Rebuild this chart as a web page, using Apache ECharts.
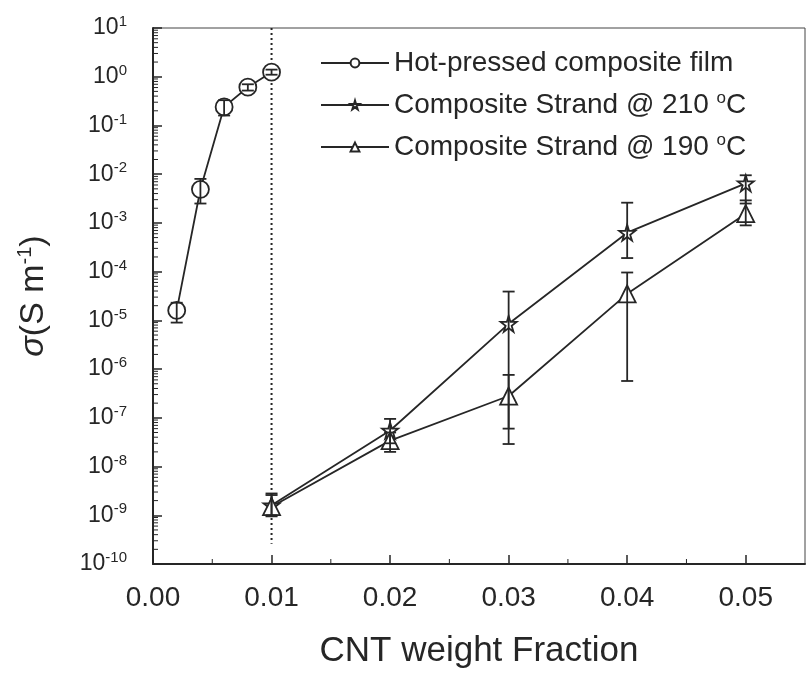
<!DOCTYPE html>
<html>
<head>
<meta charset="utf-8">
<script src="https://cdn.jsdelivr.net/npm/echarts@6/dist/echarts.min.js"></script>
<style>
  html, body { margin: 0; padding: 0; background: #fff; }
  #chart { width: 806px; height: 677px; }
</style>
</head>
<body>
<div id="chart"></div>
<script>
// hot-pressed film (circles)
const filmX = [0.002, 0.004, 0.006, 0.008, 0.010]
const filmY = [1.6e-5, 4.9e-3, 0.24, 0.61, 1.24]
const filmLow = [9e-6, 2.5e-3, 0.16, 0.52, 1.1]
const filmHigh = [2.3e-5, 8e-3, 0.33, 0.7, 1.4]

// strands, same fractions
const strandX = [0.01, 0.02, 0.03, 0.04, 0.05]
const s210Y = [1.6e-9, 5.5e-8, 8.5e-6, 6.3e-4, 6.5e-3]
const s210Low = [1e-9, 3e-8, 6e-8, 1.9e-4, 2.5e-3]
const s210High = [2.8e-9, 9.5e-8, 3.9e-5, 2.6e-3, 9.5e-3]
const s190Y = [1.5e-9, 3.4e-8, 2.8e-7, 3.5e-5, 1.55e-3]
const s190Low = [9.5e-10, 2e-8, 2.9e-8, 5.7e-7, 8.9e-4]
const s190High = [2.6e-9, 5e-8, 7.6e-7, 9.6e-5, 2.9e-3]

const dividerX = 0.01
const dividerY = [10, 2.6e-10]

const names = ['Hot-pressed composite film', 'Composite Strand @ 210 {o|o}C', 'Composite Strand @ 190 {o|o}C']

const ink = '#262626'
const font = 'Liberation Sans, Arial, sans-serif'
const star = 'path://M50,0 L61,35 L98,35 L68,57 L79,91 L50,70 L21,91 L32,57 L2,35 L39,35 Z'

const pairs = (xs, ys) => xs.map((x, i) => [x, ys[i]])
const bars = (xs, lo, hi) => xs.map((x, i) => [x, lo[i], hi[i]])

// log minor tick positions (2..9 per decade) and half-step x ticks
const yMinor = []
for (let e = -10; e < 1; e++) for (let m = 2; m <= 9; m++) yMinor.push([0, m * Math.pow(10, e)])
const xMinor = [0.005, 0.015, 0.025, 0.035, 0.045].map(v => [v, 1e-10])

function errorBar(params, api) {
  const x = api.value(0)
  const lo = api.coord([x, api.value(1)])
  const hi = api.coord([x, api.value(2)])
  const st = { stroke: ink, lineWidth: 1.8 }
  const w = 6
  return {
    type: 'group',
    children: [
      { type: 'line', shape: { x1: lo[0], y1: lo[1], x2: hi[0], y2: hi[1] }, style: st },
      { type: 'line', shape: { x1: lo[0] - w, y1: lo[1], x2: lo[0] + w, y2: lo[1] }, style: st },
      { type: 'line', shape: { x1: hi[0] - w, y1: hi[1], x2: hi[0] + w, y2: hi[1] }, style: st }
    ]
  }
}

function tickY(params, api) {
  const p = api.coord([api.value(0), api.value(1)])
  return { type: 'line', shape: { x1: p[0], y1: p[1], x2: p[0] + 5, y2: p[1] }, style: { stroke: ink, lineWidth: 1 } }
}
function tickX(params, api) {
  const p = api.coord([api.value(0), api.value(1)])
  return { type: 'line', shape: { x1: p[0], y1: p[1], x2: p[0], y2: p[1] - 5 }, style: { stroke: ink, lineWidth: 1 } }
}

const markerStyle = { color: '#fff', borderColor: ink, borderWidth: 1.8 }

const chart = echarts.init(document.getElementById('chart'))
chart.setOption({
  animation: false,
  backgroundColor: '#fff',
  textStyle: { fontFamily: font, color: ink },
  grid: { left: 153, top: 28, width: 652, height: 536, show: true, borderColor: '#444', borderWidth: 1 },
  legend: {
    data: names,
    orient: 'vertical',
    left: 315, top: 43,
    itemWidth: 68, itemHeight: 11, itemGap: 12,
    textStyle: {
      fontFamily: font, fontSize: 28, color: ink, lineHeight: 30,
      rich: { o: { fontSize: 17, verticalAlign: 'top', padding: [0, 0, 12, 0] } }
    }
  },
  xAxis: {
    type: 'value', min: 0, max: 0.055, interval: 0.01,
    name: 'CNT weight Fraction', nameLocation: 'middle', nameGap: 70,
    nameTextStyle: { fontFamily: font, fontSize: 35, color: ink },
    axisLine: { lineStyle: { color: ink, width: 2 } },
    axisTick: { inside: true, length: 9, lineStyle: { color: ink, width: 1.5 } },
    axisLabel: {
      fontFamily: font, fontSize: 28, color: ink, margin: 20, showMaxLabel: false,
      formatter: v => v.toFixed(2)
    },
    splitLine: { show: false }
  },
  yAxis: {
    type: 'log', logBase: 10, min: 1e-10, max: 10, interval: 1,
    name: '{i|σ}(S m{s|-1})', nameLocation: 'middle', nameGap: 100, nameRotate: 90,
    nameTextStyle: {
      fontFamily: font, fontSize: 34, color: ink,
      rich: {
        i: { fontFamily: font, fontSize: 34, fontStyle: 'italic', color: ink },
        s: { fontFamily: font, fontSize: 20, color: ink, verticalAlign: 'top', padding: [0, 0, 18, 0] }
      }
    },
    axisLine: { lineStyle: { color: ink, width: 2 } },
    axisTick: { inside: true, length: 9, lineStyle: { color: ink, width: 1.5 } },
    axisLabel: {
      fontFamily: font, color: ink, margin: 26,
      formatter: v => '{b|10}{s|' + Math.round(Math.log10(v)) + '}',
      rich: {
        b: { fontFamily: font, fontSize: 23, color: ink },
        s: { fontFamily: font, fontSize: 15, color: ink, verticalAlign: 'top', padding: [0, 0, 12, 0] }
      }
    },
    splitLine: { show: false }
  },
  series: [
    {
      type: 'line', silent: true, data: [[dividerX, dividerY[0]], [dividerX, dividerY[1]]],
      symbol: 'none', lineStyle: { color: ink, width: 2, type: [2, 3] }, z: 1
    },
    {
      name: names[0], type: 'line', data: pairs(filmX, filmY),
      symbol: 'circle', symbolSize: 17, itemStyle: markerStyle,
      lineStyle: { color: ink, width: 1.8 }, z: 3
    },
    {
      name: names[1], type: 'line', data: pairs(strandX, s210Y),
      symbol: star, symbolSize: 16, itemStyle: markerStyle,
      lineStyle: { color: ink, width: 1.8 }, z: 3
    },
    {
      name: names[2], type: 'line', data: pairs(strandX, s190Y),
      symbol: 'triangle', symbolSize: 17, itemStyle: markerStyle,
      lineStyle: { color: ink, width: 1.8 }, z: 3
    },
    { type: 'custom', silent: true, renderItem: errorBar, encode: { x: 0, y: [1, 2] }, data: bars(filmX, filmLow, filmHigh), z: 5 },
    { type: 'custom', silent: true, renderItem: errorBar, encode: { x: 0, y: [1, 2] }, data: bars(strandX, s210Low, s210High), z: 5 },
    { type: 'custom', silent: true, renderItem: errorBar, encode: { x: 0, y: [1, 2] }, data: bars(strandX, s190Low, s190High), z: 5 },
    { type: 'custom', silent: true, renderItem: tickY, encode: { x: 0, y: 1 }, data: yMinor, clip: false, z: 6 },
    { type: 'custom', silent: true, renderItem: tickX, encode: { x: 0, y: 1 }, data: xMinor, clip: false, z: 6 }
  ]
})
</script>
</body>
</html>
